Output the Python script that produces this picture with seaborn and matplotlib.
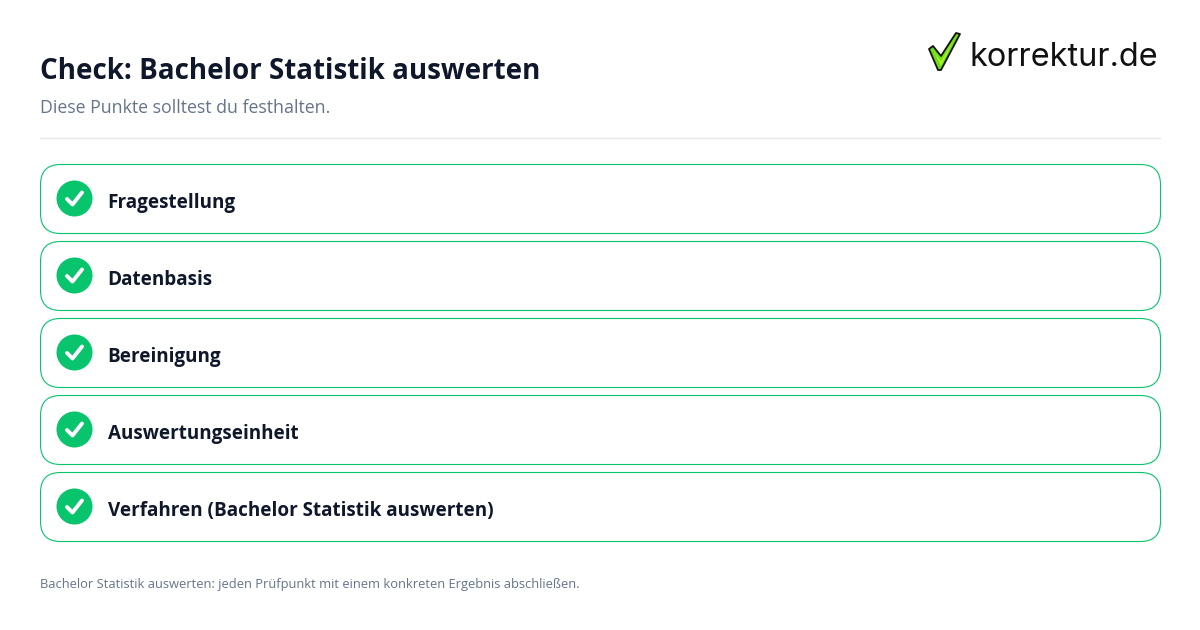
import matplotlib
matplotlib.use("Agg")
import matplotlib.pyplot as plt
import seaborn as sns
import pandas as pd
from matplotlib.patches import FancyBboxPatch, Polygon

title = "Check: Bachelor Statistik auswerten"
subtitle = "Diese Punkte solltest du festhalten."
items = ["Fragestellung", "Datenbasis", "Bereinigung", "Auswertungseinheit",
         "Verfahren (Bachelor Statistik auswerten)"]
footer = "Bachelor Statistik auswerten: jeden Prüfpunkt mit einem konkreten Ergebnis abschließen."
logo = "korrektur.de"

sns.set_theme(style="white")
plt.rcParams["font.family"] = ["Open Sans", "DejaVu Sans"]

fig = plt.figure(figsize=(12, 6.3), dpi=100, facecolor="white")
ax = fig.add_axes([0, 0, 1, 1])
ax.set_xlim(0, 1200)
ax.set_ylim(630, 0)
ax.axis("off")

GREEN = "#08c46c"
NAVY = "#0f172a"
SLATE = "#64748b"

ax.text(40, 68, title, fontsize=19.95, fontweight="bold", color=NAVY, va="center_baseline")
ax.text(40, 106, subtitle, fontsize=12.82, color=SLATE, va="center_baseline")
ax.plot([40, 1160], [138, 138], color="#e5e7eb", lw=1)

tops = [164.5 + 77 * i for i in range(len(items))]
for top, label in zip(tops, items):
    ax.add_patch(FancyBboxPatch((40.5, top), 1120, 69,
                                boxstyle="round,pad=0,rounding_size=20",
                                fc="white", ec=GREEN, lw=0.8))
    ax.text(107.6, top + 36, label, fontsize=13.57, fontweight="bold", color=NAVY, va="center_baseline")
    ax.plot([67, 72.5, 82], [top + 34.5, top + 40, top + 28], color="white",
            lw=2.8, solid_capstyle="round", solid_joinstyle="round", zorder=5)

df = pd.DataFrame({"x": [74] * len(items), "y": [t + 33.5 for t in tops]})
sns.scatterplot(data=df, x="x", y="y", s=672, color=GREEN, linewidth=0, ax=ax, zorder=4, legend=False)
ax.set_xlim(0, 1200)
ax.set_ylim(630, 0)
ax.axis("off")

ax.text(40, 583, footer, fontsize=9.3, color=SLATE, va="center_baseline")

# logo
ax.add_patch(Polygon([(929, 49), (933, 46), (941, 56), (956, 33), (960, 34), (941, 70), (938, 70)],
                     closed=True, fc="#6fdc12", ec="#111111", lw=1.3, joinstyle="round"))
ax.add_patch(Polygon([(933, 50), (941, 61), (955, 38), (941, 66)], closed=True, fc="#a5f02c", ec="none"))
ax.text(970, 53.5, logo, fontsize=23.4, color="#111111", va="center_baseline", family=["Inter", "DejaVu Sans"])

fig.savefig("out.png", dpi=100, facecolor="white")
